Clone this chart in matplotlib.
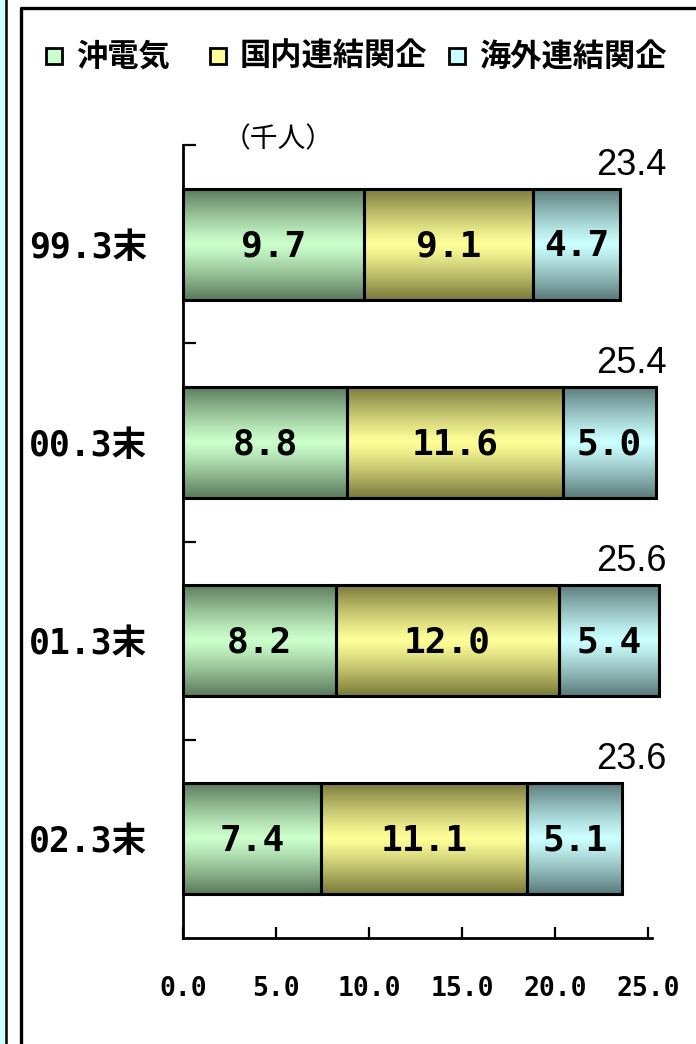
import matplotlib.pyplot as plt
import numpy as np
from matplotlib.lines import Line2D
from matplotlib.patches import Rectangle
from matplotlib.colors import to_rgb

categories = ["99.3末", "00.3末", "01.3末", "02.3末"]
series_names = ["沖電気", "国内連結関企", "海外連結関企"]
oki = [9.7, 8.8, 8.2, 7.4]
domestic = [9.1, 11.6, 12.0, 11.1]
overseas = [4.7, 5.0, 5.4, 5.1]
totals = [23.4, 25.4, 25.6, 23.6]
x_ticks = [0, 5, 10, 15, 20, 25]

# (dark edge colour, light centre colour) for each series
shades = [("#5a7a5b", "#ccffcc"), ("#7a7a3c", "#ffff99"), ("#5a7a7a", "#ccffff")]

MONO = ["DejaVu Sans Mono", "Noto Sans CJK JP"]
CJK = ["Noto Sans CJK JP", "DejaVu Sans"]


def gradient_bar(ax, bar, dark, light):
    x0, y0 = bar.get_x(), bar.get_y()
    w, h = bar.get_width(), bar.get_height()
    t = np.abs(np.linspace(-1, 1, 80)) ** 1.2
    dark, light = np.array(to_rgb(dark)), np.array(to_rgb(light))
    cols = light * (1 - t)[:, None] + dark * t[:, None]
    im = ax.imshow(cols[:, None, :], extent=[x0, x0 + w, y0 + h, y0],
                   aspect="auto", interpolation="bilinear", zorder=2)
    im.set_clip_on(False)


fig = plt.figure(figsize=(6.96, 10.44), dpi=100)
ax = fig.add_axes([183 / 696, 106 / 1044, 469 / 696, 793 / 1044])

y = np.arange(len(categories))
left = np.zeros(len(categories))
for vals, (dark, light) in zip([oki, domestic, overseas], shades):
    bars = ax.barh(y, vals, left=left, height=0.56, facecolor="none",
                   edgecolor="black", linewidth=2.2, zorder=3, clip_on=False)
    for bar, v in zip(bars, vals):
        gradient_bar(ax, bar, dark, light)
        ax.text(bar.get_x() + bar.get_width() / 2, bar.get_y() + bar.get_height() / 2 + 0.01,
                "%.1f" % v, ha="center", va="center", fontsize=26,
                fontweight="bold", family=MONO, zorder=4)
    left += np.array(vals)

# totals above each bar
for yi, tot in zip(y, totals):
    ax.text(24.1, yi - 0.31, "%.1f" % tot, ha="center", va="bottom",
            fontsize=26, family="Liberation Sans", zorder=4)

ax.text(5.1, -0.53, "（千人）", ha="center", va="center", fontsize=20,
        family=CJK, clip_on=False)

ax.set_xlim(0, 25.2)
ax.set_ylim(len(categories) - 0.5, -0.5)

for s in ["top", "right"]:
    ax.spines[s].set_visible(False)
for s in ["left", "bottom"]:
    ax.spines[s].set_linewidth(2)

ax.set_xticks(x_ticks)
ax.set_xticklabels(["%.1f" % v for v in x_ticks], fontsize=19,
                   fontweight="bold", family=MONO)
ax.tick_params(axis="x", direction="in", length=8, width=1.6, pad=27)

ax.set_yticks([-0.5] + list(y[:-1] + 0.5))
ax.set_yticklabels([])
ax.set_yticks(y, categories, minor=True)
ax.tick_params(axis="y", which="major", direction="in", length=9, width=1.6)
ax.tick_params(axis="y", which="minor", length=0, pad=26)
for lab in ax.get_yticklabels(minor=True):
    lab.set_fontsize(25)
    lab.set_fontweight("bold")
    lab.set_family(MONO)

# legend row
legend_x = [46, 210, 449]
for (dark, light), name, lx in zip(shades, series_names, legend_x):
    fig.patches.append(Rectangle((lx / 696, 1 - 64 / 1044), 16 / 696, 16 / 1044,
                                 transform=fig.transFigure, facecolor=light,
                                 edgecolor="black", linewidth=2))
    fig.text((lx + 30) / 696, 1 - 57 / 1044, name, ha="left", va="center",
             fontsize=22.5, fontweight="bold", family=CJK)

# outer frames
fig.patches.append(Rectangle((0, 0), 6 / 696, 1, transform=fig.transFigure,
                             facecolor="#ccffff", edgecolor="none"))
fig.lines.append(Line2D([6 / 696, 6 / 696], [0, 1], transform=fig.transFigure,
                        color="black", linewidth=1.8))
fig.lines.append(Line2D([21 / 696, 21 / 696, 1], [0, 1 - 8 / 1044, 1 - 8 / 1044],
                        transform=fig.transFigure, color="black", linewidth=2.4))

fig.savefig("out.png", dpi=100)
